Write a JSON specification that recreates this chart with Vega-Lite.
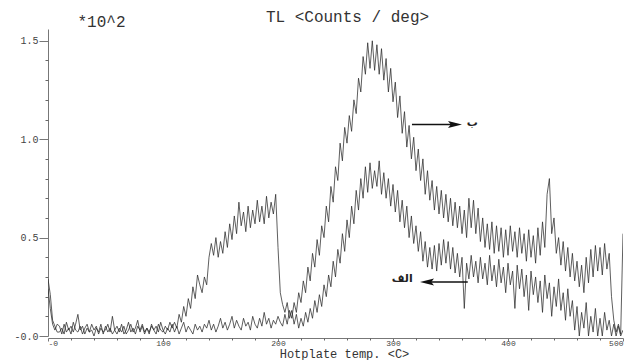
{
"$schema": "https://vega.github.io/schema/vega-lite/v6.json",
"width": 575, "height": 307,
"autosize": "none",
"padding": {"left": 48, "top": 29, "right": 15, "bottom": 24},
"background": "white",
"config": {"view": {"stroke": null}},
"title": {"text": "TL <Counts / deg>", "font": "Liberation Mono", "fontSize": 16, "fontWeight": "normal", "color": "#333", "dx": 12, "dy": 17, "offset": 5, "anchor": "middle"},
"resolve": {"axis": {"x": "independent", "y": "independent"}},
"layer": [
{
"data": {"values": [
{"t":0,"A":0.29,"B":0.24},{"t":2,"A":0.21,"B":0.14},{"t":4,"A":0.08,"B":0.06},{"t":6,"A":0.05,"B":0.03},{"t":8,"A":0.02,"B":0.06},
{"t":10,"A":0.02,"B":0.05},{"t":12,"A":0.04,"B":0.01},{"t":14,"A":0.01,"B":0.06},{"t":16,"A":0.07,"B":0.02},{"t":18,"A":0.03,"B":0.04},
{"t":20,"A":0.05,"B":0.01},{"t":22,"A":0.02,"B":0.07},{"t":24,"A":0.06,"B":0.03},{"t":26,"A":0.11,"B":0.02},{"t":28,"A":0.03,"B":0.05},
{"t":30,"A":0.05,"B":0.01},{"t":32,"A":0.01,"B":0.04},{"t":34,"A":0.04,"B":0.06},{"t":36,"A":0.02,"B":0.02},{"t":38,"A":0.06,"B":0.03},
{"t":40,"A":0.03,"B":0.00},{"t":42,"A":0.05,"B":0.04},{"t":44,"A":0.01,"B":0.02},{"t":46,"A":0.04,"B":0.06},{"t":48,"A":0.02,"B":0.01},
{"t":50,"A":0.03,"B":0.05},{"t":52,"A":0.06,"B":0.02},{"t":54,"A":0.02,"B":0.04},{"t":56,"A":0.10,"B":0.01},{"t":58,"A":0.03,"B":0.03},
{"t":60,"A":0.01,"B":0.05},{"t":62,"A":0.04,"B":0.02},{"t":64,"A":0.02,"B":0.06},{"t":66,"A":0.05,"B":0.01},{"t":68,"A":0.01,"B":0.03},
{"t":70,"A":0.03,"B":0.07},{"t":72,"A":0.06,"B":0.02},{"t":74,"A":0.02,"B":0.04},{"t":76,"A":0.04,"B":0.01},{"t":78,"A":0.08,"B":0.05},
{"t":80,"A":0.02,"B":0.03},{"t":82,"A":0.05,"B":0.06},{"t":84,"A":0.01,"B":0.02},{"t":86,"A":0.04,"B":0.04},{"t":88,"A":0.02,"B":0.01},
{"t":90,"A":0.05,"B":0.06},{"t":92,"A":0.03,"B":0.03},{"t":94,"A":0.01,"B":0.05},{"t":96,"A":0.06,"B":0.02},{"t":98,"A":0.03,"B":0.07},
{"t":100,"A":0.02,"B":0.03},{"t":102,"A":0.05,"B":0.01},{"t":104,"A":0.03,"B":0.04},{"t":106,"A":0.07,"B":0.02},{"t":108,"A":0.04,"B":0.06},
{"t":110,"A":0.07,"B":0.02},{"t":112,"A":0.04,"B":0.05},{"t":114,"A":0.11,"B":0.01},{"t":116,"A":0.07,"B":0.04},{"t":118,"A":0.15,"B":0.07},
{"t":120,"A":0.10,"B":0.02},{"t":122,"A":0.19,"B":0.05},{"t":124,"A":0.14,"B":0.03},{"t":126,"A":0.25,"B":0.01},{"t":128,"A":0.19,"B":0.06},
{"t":130,"A":0.31,"B":0.03},{"t":132,"A":0.26,"B":0.05},{"t":134,"A":0.22,"B":0.02},{"t":136,"A":0.30,"B":0.06},{"t":138,"A":0.26,"B":0.04},
{"t":140,"A":0.40,"B":0.08},{"t":142,"A":0.47,"B":0.03},{"t":144,"A":0.41,"B":0.06},{"t":146,"A":0.50,"B":0.02},{"t":148,"A":0.40,"B":0.05},
{"t":150,"A":0.48,"B":0.09},{"t":152,"A":0.42,"B":0.04},{"t":154,"A":0.53,"B":0.07},{"t":156,"A":0.45,"B":0.03},{"t":158,"A":0.57,"B":0.06},
{"t":160,"A":0.49,"B":0.10},{"t":162,"A":0.61,"B":0.04},{"t":164,"A":0.52,"B":0.08},{"t":166,"A":0.68,"B":0.05},{"t":168,"A":0.56,"B":0.03},
{"t":170,"A":0.63,"B":0.09},{"t":172,"A":0.53,"B":0.05},{"t":174,"A":0.66,"B":0.07},{"t":176,"A":0.55,"B":0.03},{"t":178,"A":0.64,"B":0.10},
{"t":180,"A":0.57,"B":0.06},{"t":182,"A":0.69,"B":0.04},{"t":184,"A":0.58,"B":0.09},{"t":186,"A":0.66,"B":0.05},{"t":188,"A":0.57,"B":0.12},
{"t":190,"A":0.71,"B":0.06},{"t":192,"A":0.60,"B":0.09},{"t":194,"A":0.68,"B":0.04},{"t":196,"A":0.62,"B":0.08},{"t":198,"A":0.72,"B":0.06},
{"t":200,"A":0.45,"B":0.10},{"t":202,"A":0.22,"B":0.07},{"t":204,"A":0.16,"B":0.05},{"t":206,"A":0.12,"B":0.11},{"t":208,"A":0.17,"B":0.06},
{"t":210,"A":0.09,"B":0.13},{"t":212,"A":0.13,"B":0.09},{"t":214,"A":0.06,"B":0.17},{"t":216,"A":0.11,"B":0.12},{"t":218,"A":0.04,"B":0.22},
{"t":220,"A":0.09,"B":0.17},{"t":222,"A":0.05,"B":0.28},{"t":224,"A":0.12,"B":0.22},{"t":226,"A":0.07,"B":0.35},{"t":228,"A":0.14,"B":0.28},
{"t":230,"A":0.09,"B":0.42},{"t":232,"A":0.18,"B":0.35},{"t":234,"A":0.12,"B":0.49},{"t":236,"A":0.21,"B":0.41},{"t":238,"A":0.15,"B":0.56},
{"t":240,"A":0.26,"B":0.50},{"t":242,"A":0.20,"B":0.66},{"t":244,"A":0.31,"B":0.58},{"t":246,"A":0.25,"B":0.76},{"t":248,"A":0.38,"B":0.68},
{"t":250,"A":0.30,"B":0.86},{"t":252,"A":0.44,"B":0.79},{"t":254,"A":0.37,"B":0.98},{"t":256,"A":0.52,"B":0.89},{"t":258,"A":0.43,"B":1.06},
{"t":260,"A":0.59,"B":0.98},{"t":262,"A":0.50,"B":1.12},{"t":264,"A":0.66,"B":1.04},{"t":266,"A":0.57,"B":1.20},{"t":268,"A":0.74,"B":1.13},
{"t":270,"A":0.64,"B":1.31},{"t":272,"A":0.80,"B":1.24},{"t":274,"A":0.70,"B":1.42},{"t":276,"A":0.86,"B":1.33},{"t":278,"A":0.73,"B":1.49},
{"t":280,"A":0.88,"B":1.36},{"t":282,"A":0.75,"B":1.50},{"t":284,"A":0.84,"B":1.35},{"t":286,"A":0.76,"B":1.48},{"t":288,"A":0.89,"B":1.33},
{"t":290,"A":0.72,"B":1.46},{"t":292,"A":0.83,"B":1.30},{"t":294,"A":0.70,"B":1.41},{"t":296,"A":0.80,"B":1.24},{"t":298,"A":0.66,"B":1.36},
{"t":300,"A":0.77,"B":1.19},{"t":302,"A":0.63,"B":1.29},{"t":304,"A":0.74,"B":1.11},{"t":306,"A":0.58,"B":1.22},{"t":308,"A":0.69,"B":1.03},
{"t":310,"A":0.55,"B":1.14},{"t":312,"A":0.66,"B":0.96},{"t":314,"A":0.50,"B":1.07},{"t":316,"A":0.61,"B":0.90},{"t":318,"A":0.47,"B":1.01},
{"t":320,"A":0.56,"B":0.84},{"t":322,"A":0.43,"B":0.95},{"t":324,"A":0.53,"B":0.79},{"t":326,"A":0.38,"B":0.90},{"t":328,"A":0.48,"B":0.72},
{"t":330,"A":0.35,"B":0.84},{"t":332,"A":0.45,"B":0.69},{"t":334,"A":0.34,"B":0.79},{"t":336,"A":0.46,"B":0.64},{"t":338,"A":0.33,"B":0.76},
{"t":340,"A":0.47,"B":0.62},{"t":342,"A":0.36,"B":0.74},{"t":344,"A":0.49,"B":0.60},{"t":346,"A":0.37,"B":0.72},{"t":348,"A":0.48,"B":0.58},
{"t":350,"A":0.34,"B":0.70},{"t":352,"A":0.45,"B":0.56},{"t":354,"A":0.32,"B":0.68},{"t":356,"A":0.42,"B":0.55},{"t":358,"A":0.30,"B":0.66},
{"t":360,"A":0.40,"B":0.52},{"t":362,"A":0.14,"B":0.64},{"t":364,"A":0.37,"B":0.50},{"t":366,"A":0.29,"B":0.70},{"t":368,"A":0.41,"B":0.55},
{"t":370,"A":0.30,"B":0.69},{"t":372,"A":0.38,"B":0.52},{"t":374,"A":0.27,"B":0.65},{"t":376,"A":0.40,"B":0.48},{"t":378,"A":0.29,"B":0.60},
{"t":380,"A":0.37,"B":0.45},{"t":382,"A":0.26,"B":0.57},{"t":384,"A":0.41,"B":0.44},{"t":386,"A":0.28,"B":0.58},{"t":388,"A":0.36,"B":0.42},
{"t":390,"A":0.25,"B":0.56},{"t":392,"A":0.39,"B":0.43},{"t":394,"A":0.27,"B":0.55},{"t":396,"A":0.35,"B":0.40},{"t":398,"A":0.22,"B":0.54},
{"t":400,"A":0.37,"B":0.41},{"t":402,"A":0.26,"B":0.56},{"t":404,"A":0.33,"B":0.43},{"t":406,"A":0.14,"B":0.53},{"t":408,"A":0.36,"B":0.40},
{"t":410,"A":0.24,"B":0.55},{"t":412,"A":0.34,"B":0.42},{"t":414,"A":0.20,"B":0.52},{"t":416,"A":0.31,"B":0.38},{"t":418,"A":0.13,"B":0.54},
{"t":420,"A":0.33,"B":0.40},{"t":422,"A":0.21,"B":0.51},{"t":424,"A":0.30,"B":0.37},{"t":426,"A":0.17,"B":0.55},{"t":428,"A":0.28,"B":0.41},
{"t":430,"A":0.12,"B":0.58},{"t":432,"A":0.31,"B":0.45},{"t":434,"A":0.19,"B":0.72},{"t":436,"A":0.27,"B":0.80},{"t":438,"A":0.10,"B":0.52},
{"t":440,"A":0.25,"B":0.60},{"t":442,"A":0.15,"B":0.42},{"t":444,"A":0.29,"B":0.50},{"t":446,"A":0.13,"B":0.36},{"t":448,"A":0.22,"B":0.48},
{"t":450,"A":0.08,"B":0.33},{"t":452,"A":0.24,"B":0.45},{"t":454,"A":0.10,"B":0.30},{"t":456,"A":0.18,"B":0.42},{"t":458,"A":0.03,"B":0.28},
{"t":460,"A":0.15,"B":0.38},{"t":462,"A":0.00,"B":0.25},{"t":464,"A":0.12,"B":0.36},{"t":466,"A":0.04,"B":0.22},{"t":468,"A":0.17,"B":0.40},
{"t":470,"A":0.00,"B":0.27},{"t":472,"A":0.10,"B":0.44},{"t":474,"A":0.02,"B":0.30},{"t":476,"A":0.14,"B":0.46},{"t":478,"A":0.00,"B":0.33},
{"t":480,"A":0.09,"B":0.45},{"t":482,"A":0.00,"B":0.31},{"t":484,"A":0.12,"B":0.47},{"t":486,"A":0.03,"B":0.34},{"t":488,"A":0.08,"B":0.42},
{"t":490,"A":0.00,"B":0.20},{"t":492,"A":0.06,"B":0.08},{"t":494,"A":0.00,"B":0.02},{"t":496,"A":0.05,"B":0.06},{"t":498,"A":0.00,"B":0.01},
{"t":500,"A":0.03,"B":0.52}
]},
"transform": [{"fold": ["A", "B"], "as": ["s", "v"]}],
"mark": {"type": "line", "stroke": "#2a2a2a", "strokeWidth": 0.75, "clip": true},
"encoding": {
"x": {"field": "t", "type": "quantitative", "scale": {"domain": [0, 500], "nice": false},
"axis": {"orient": "bottom", "values": [0,100,200,300,400,500], "format": "d",
"labelExpr": "datum.value == 0 ? '-0' : datum.label",
"labelOverlap": false, "grid": false, "offset": 2, "tickSize": 3, "labelPadding": -2,
"labelFont": "Liberation Mono", "labelFontSize": 8, "labelColor": "#444",
"domainColor": "#777", "tickColor": "#777",
"title": "Hotplate temp. <C>", "titleFont": "Liberation Mono", "titleFontSize": 12, "titleFontWeight": "normal", "titleColor": "#333",
"titleX": 296, "titleY": 19, "titleAlign": "center", "titleBaseline": "alphabetic"}},
"y": {"field": "v", "type": "quantitative", "scale": {"domain": [0, 1.56], "nice": false},
"axis": {"orient": "left", "values": [0,0.5,1,1.5],
"labelExpr": "datum.value == 0 ? '-0.0' : format(datum.value, '.1f')",
"labelOverlap": false, "grid": false, "tickSize": 9, "labelPadding": 1,
"labelFont": "Liberation Mono", "labelFontSize": 10, "labelColor": "#444",
"domainColor": "#777", "tickColor": "#777",
"title": "*10^2", "titleFont": "Liberation Mono", "titleFontSize": 16, "titleFontWeight": "normal", "titleColor": "#333",
"titleAngle": 0, "titleAlign": "left", "titleBaseline": "alphabetic", "titleX": 29, "titleY": -3}},
"detail": {"field": "s"}
}
},
{
"data": {"values": [{"x": 316.5, "x2": 351, "y": 1.075}, {"x": 333, "x2": 365, "y": 0.275}]},
"mark": {"type": "rule", "stroke": "#111", "strokeWidth": 1.5},
"encoding": {
"x": {"field": "x", "type": "quantitative", "scale": {"domain": [0, 500], "nice": false},
"axis": {"orient": "bottom", "values": [20,40,60,80,120,140,160,180,220,240,260,280,320,340,360,380,420,440,460,480], "labels": false, "domain": false, "grid": false, "offset": 2, "tickSize": 2, "tickColor": "#666", "title": null}},
"x2": {"field": "x2"},
"y": {"field": "y", "type": "quantitative", "scale": {"domain": [0, 1.56], "nice": false},
"axis": {"orient": "left", "values": [0.1,0.2,0.3,0.4,0.6,0.7,0.8,0.9,1.1,1.2,1.3,1.4], "labels": false, "domain": false, "grid": false, "tickSize": 3, "tickColor": "#666", "title": null}}
}
},
{
"data": {"values": [{"x": 360, "y": 1.075, "dir": "right"}, {"x": 323.5, "y": 0.275, "dir": "left"}]},
"mark": {"type": "point", "filled": true, "fill": "#111", "stroke": null, "size": 196, "opacity": 1},
"encoding": {"x": {"field": "x", "type": "quantitative", "axis": null}, "y": {"field": "y", "type": "quantitative", "axis": null},
"shape": {"field": "dir", "type": "nominal", "legend": null, "scale": {"domain": ["right", "left"], "range": ["M0,0L-2,-0.5L-1.6,0L-2,0.5Z", "M0,0L2,-0.5L1.6,0L2,0.5Z"]}}}
},
{
"data": {"values": [{"x": 369, "y": 1.08, "label": "ب"}, {"x": 308, "y": 0.29, "label": "الف"}]},
"mark": {"type": "text", "font": "DejaVu Sans", "fontSize": 11, "fontWeight": "bold", "color": "#222", "baseline": "middle", "align": "center"},
"encoding": {"x": {"field": "x", "type": "quantitative", "axis": null}, "y": {"field": "y", "type": "quantitative", "axis": null}, "text": {"field": "label"}}
}
]
}
